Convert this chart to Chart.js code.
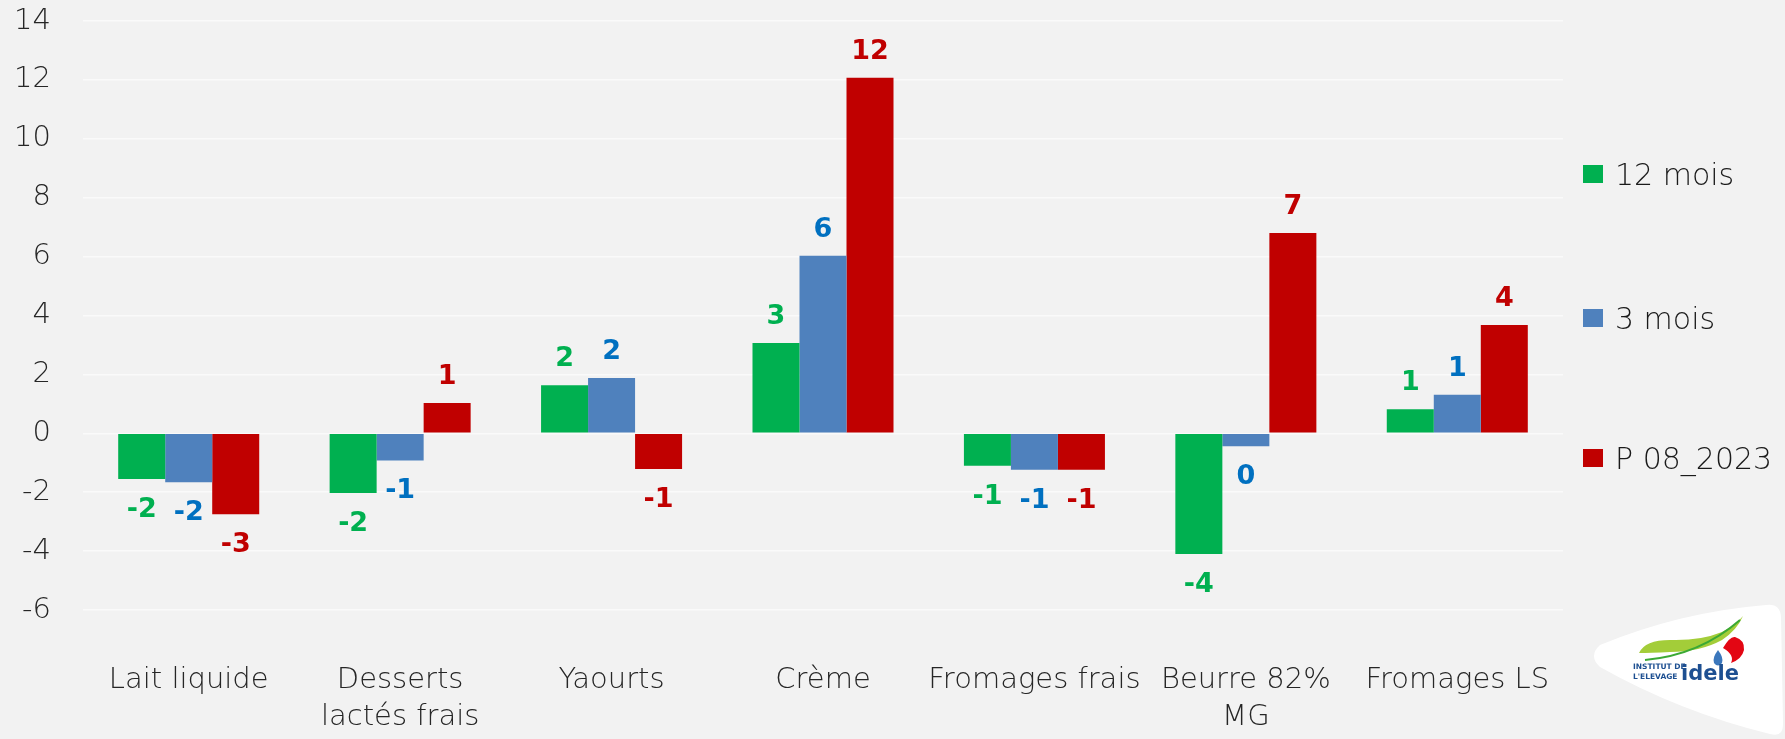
<!DOCTYPE html>
<html lang="fr">
<head>
<meta charset="utf-8">
<title>Évolution des achats de produits laitiers</title>
<script src="https://cdn.jsdelivr.net/npm/chart.js@4.4.1/dist/chart.umd.min.js"></script>
<style>
  html, body { margin: 0; padding: 0; background: #F2F2F2; }
  #wrap { position: relative; width: 1785px; height: 739px; overflow: hidden; background: #F2F2F2; }
  #chart { position: absolute; left: 0; top: 0; }
  .leg-item { position: absolute; left: 1583px; height: 40px; display: flex; align-items: center;
    font-family: 'DejaVu Sans', sans-serif; font-weight: 200; font-size: 30px; color: #1A1A1A; white-space: nowrap; }
  .leg-box { width: 20px; height: 18px; margin-right: 12px; }
  #logo { position: absolute; left: 1590px; top: 600px; }
</style>
</head>
<body>
<div id="wrap">
  <canvas id="chart" width="1785" height="739"></canvas>
  <div id="legend"></div>
  <svg id="logo" width="195" height="139" viewBox="1590 600 195 139">
    <path d="M1600 645 Q1680 612 1766 605 Q1780 603 1781 617 L1783 722 Q1784 738 1770 734 Q1680 712 1600 667 Q1588 656 1600 645 Z" fill="#FFFFFF"/>
    <path d="M1639 653 Q1645 640 1670 640 Q1700 641 1722 632 Q1736 625 1743 616 Q1737 630 1722 640 Q1700 652 1670 652 Q1650 653 1639 653 Z" fill="#A3CD39"/>
    <path d="M1645 660 Q1700 655 1740 620" stroke="#3BA935" stroke-width="2" fill="none"/>
    <path d="M1723 648 Q1730 636 1735 637 Q1745 640 1744 650 Q1742 659 1731 663 Q1735 655 1723 648 Z" fill="#E30613"/>
    <path d="M1718 650 Q1712 658 1714 663 Q1718 668 1722 663 Q1724 658 1718 650 Z" fill="#3B77BC"/>
    <text x="1633" y="669" font-family="'DejaVu Sans', sans-serif" font-weight="bold" font-size="7.5" fill="#1D4F91">INSTITUT DE</text>
    <text x="1633" y="679" font-family="'DejaVu Sans', sans-serif" font-weight="bold" font-size="7.5" fill="#1D4F91">L'ELEVAGE</text>
    <text x="1681" y="680" font-family="'DejaVu Sans', sans-serif" font-weight="bold" font-size="21" fill="#1D4F91">idele</text>
  </svg>
</div>
<script>
// categories and series (variation in %)
const categories = ['Lait liquide', ['Desserts', 'lactés frais'], 'Yaourts', 'Crème', 'Fromages frais', ['Beurre 82%', 'MG'], 'Fromages LS'];
const seriesNames = ['12 mois', '3 mois', 'P 08_2023'];
const mois12 = [-1.55, -2.03, 1.63, 3.07, -1.10, -4.10, 0.82];
const mois3 = [-1.66, -0.92, 1.88, 6.03, -1.24, -0.44, 1.31];
const p082023 = [-2.75, 1.03, -1.21, 12.07, -1.24, 6.80, 3.68];
const yMin = -6;
const yMax = 14;
const yStep = 2;

const barColors = ['#00B050', '#4F81BD', '#C00000'];
const labelColors = ['#00B050', '#0070C0', '#C00000'];
const legendY = [174, 318, 458];

const FONT = "'DejaVu Sans', sans-serif";

// value labels at the bar ends, rounded like the original
const valueLabels = {
  id: 'valueLabels',
  afterDatasetsDraw(chart) {
    const ctx = chart.ctx;
    ctx.save();
    ctx.font = 'bold 27px ' + FONT;
    ctx.textAlign = 'center';
    ctx.textBaseline = 'middle';
    chart.data.datasets.forEach((ds, i) => {
      const meta = chart.getDatasetMeta(i);
      ctx.fillStyle = labelColors[i];
      meta.data.forEach((bar, j) => {
        const v = ds.data[j];
        const txt = String(Math.round(v) || 0);
        const y = v >= 0 ? bar.y - 26 : bar.y + 31;
        ctx.fillText(txt, bar.x, y);
      });
    });
    ctx.restore();
  }
};

const datasets = [mois12, mois3, p082023].map((data, i) => ({
  label: seriesNames[i],
  data,
  backgroundColor: barColors[i],
  borderWidth: 0,
  categoryPercentage: 0.667,
  barPercentage: 1
}));

new Chart(document.getElementById('chart'), {
  type: 'bar',
  data: { labels: categories, datasets },
  plugins: [valueLabels],
  options: {
    responsive: false,
    animation: false,
    layout: { padding: { top: 21, right: 222, bottom: 0, left: 0 } },
    plugins: { legend: { display: false }, tooltip: { enabled: false } },
    scales: {
      x: {
        grid: { display: false, drawTicks: false },
        border: { display: false },
        ticks: {
          color: '#262626',
          padding: 52,
          maxRotation: 0,
          autoSkip: false,
          font: { family: FONT, size: 29, weight: 200, lineHeight: 1.27 }
        },
        afterFit(scale) { scale.height = 129; }
      },
      y: {
        min: yMin,
        max: yMax,
        grid: { color: '#FAFAFA', lineWidth: 1.5, drawTicks: false },
        border: { display: false },
        ticks: {
          stepSize: yStep,
          color: '#262626',
          padding: 32,
          font: { family: FONT, size: 29, weight: 200 }
        },
        afterFit(scale) {
          scale.width = 83;
          // keep the tick padding from pushing the plot area down
          scale.paddingTop = 0;
          scale.paddingBottom = 0;
        }
      }
    }
  }
});

// legend on the right, spaced like the original
const legend = document.getElementById('legend');
seriesNames.forEach((name, i) => {
  const item = document.createElement('div');
  item.className = 'leg-item';
  item.style.top = (legendY[i] - 20) + 'px';
  item.innerHTML = `<span class="leg-box" style="background:${barColors[i]}"></span><span>${name}</span>`;
  legend.appendChild(item);
});
</script>
</body>
</html>
